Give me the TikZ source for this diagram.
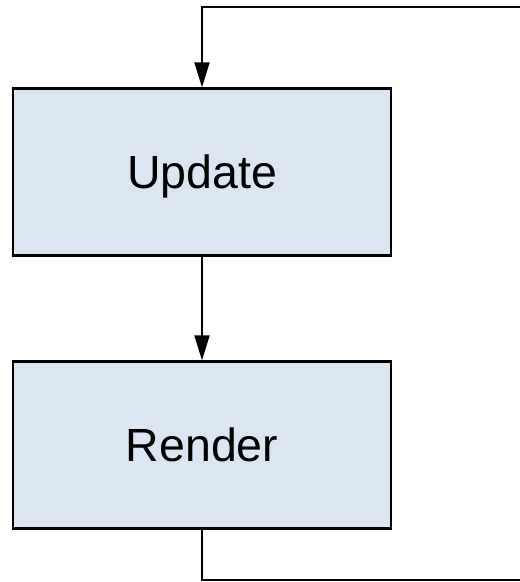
\documentclass[tikz,border=0pt]{standalone}
\usepackage{fontspec}
\setmainfont{Liberation Sans}
\usetikzlibrary{arrows.meta}
\definecolor{boxfill}{HTML}{DCE6F2}
\begin{document}
\begin{tikzpicture}[x=1pt,y=-1pt,
  stagebox/.style={draw=black,line width=2.2pt,fill=boxfill,
    minimum width=378pt,minimum height=167pt,inner sep=0pt,
    text depth=0pt,font=\fontsize{46.5}{56}\selectfont},
  flow/.style={line width=1.8pt,-{Triangle[width=15pt,length=25pt]}},
  loopline/.style={line width=1.8pt}]
\useasboundingbox (0,0) rectangle (520,582);
\node[stagebox] (update) at (202,172) {Update};
\node[stagebox] (render) at (202,445) {Render};
\coordinate (bl) at (202,580);
\coordinate (br) at (560,580);
\coordinate (tr) at (560,7);
\coordinate (tl) at (202,7);
\draw[flow] (update) -- (render);
\draw[flow] (render.south) -- (bl) -- (br) -- (tr) -- (tl) -- (update.north);
\end{tikzpicture}
\end{document}
